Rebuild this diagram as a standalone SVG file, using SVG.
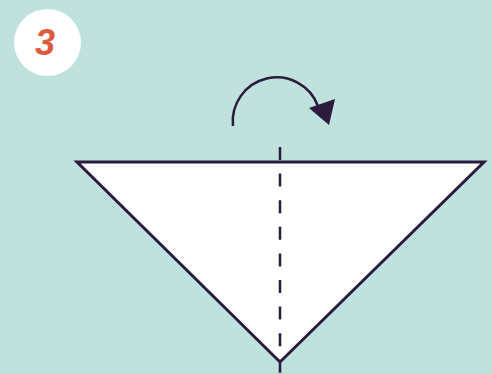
<svg xmlns="http://www.w3.org/2000/svg" width="492" height="374" viewBox="0 0 492 374">
<style>
.ln{stroke:#2b1b3f;stroke-width:2.5;fill:none}
</style>
<rect width="492" height="374" fill="#bfe2dc"/>
<g id="badge">
<circle cx="47.5" cy="42.5" r="33.5" fill="#ffffff"/>
<text x="45" y="55" font-family="Liberation Sans, sans-serif" font-size="36" font-style="italic" font-weight="bold" fill="#dd5a3c" text-anchor="middle">3</text>
</g>
<g id="paper">
<polygon points="77,162 484,162 280,362" fill="#ffffff" stroke="#2b1b3f" stroke-width="3" stroke-linejoin="miter"/>
</g>
<g id="connectors">
<line x1="280" y1="147" x2="280" y2="374" class="ln" stroke-dasharray="13,13.6"/>
<path d="M233,126 A44,44 0 0 1 318,106" class="ln" stroke-width="3"/>
<polygon points="309,108 335,99 329,125" fill="#2b1b3f"/>
</g>
</svg>
